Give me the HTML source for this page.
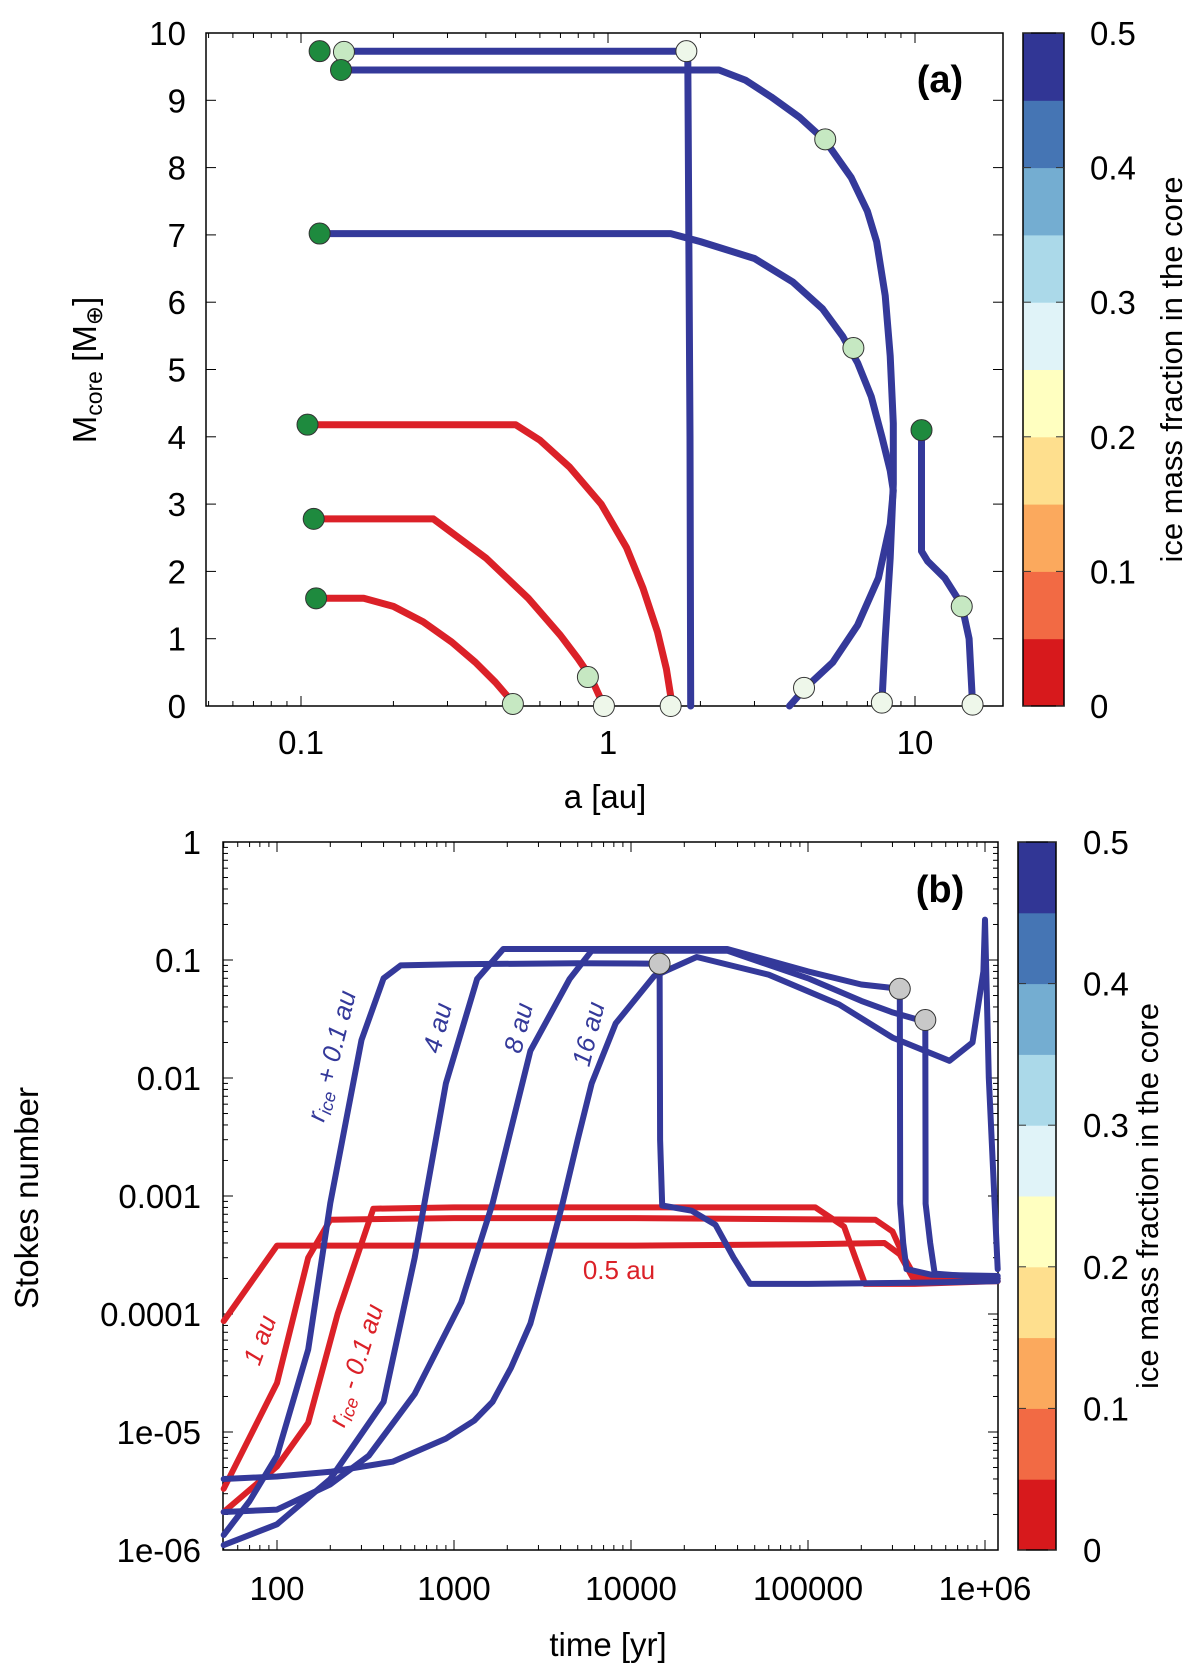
<!DOCTYPE html>
<html><head><meta charset="utf-8">
<style>
html,body{margin:0;padding:0;background:#fff;}
svg{display:block;font-family:"Liberation Sans",Arial,sans-serif;}
</style></head>
<body>
<svg id="fig" width="1200" height="1675" viewBox="0 0 1200 1675" xmlns="http://www.w3.org/2000/svg"></svg>
<script>
// ---------- Panel (a) data ----------
const aTicks = [0.1, 1, 10];
const aTickLabels = ["0.1", "1", "10"];
const mTicks = [0,1,2,3,4,5,6,7,8,9,10];
const cbTicks = [0,0.1,0.2,0.3,0.4,0.5];
const cbColors = ["#d7191c","#f26a44","#fba95d","#fedf8e","#ffffc0","#e0f3f8","#abd9e9","#74add1","#4575b4","#313695"];

const trackA1_a = [0.135, 1.8, 1.82, 1.85, 1.86];
const trackA1_m = [9.73, 9.73, 9.6, 4, 0];
const trackA2_a = [0.135, 2.3, 2.8, 3.4, 4.2, 5.1, 6.2, 7.0, 7.5, 8.0, 8.3, 8.5, 8.5, 8.3, 8.0, 7.8];
const trackA2_m = [9.45, 9.45, 9.3, 9.05, 8.75, 8.4, 7.85, 7.35, 6.9, 6.1, 5.2, 4.2, 3.3, 2.2, 1.0, 0.05];
const trackA3_a = [0.115, 1.6, 2.0, 3.0, 4.0, 5.0, 5.8, 6.5, 7.2, 7.8, 8.3, 8.5, 8.3, 7.6, 6.5, 5.4, 4.4, 3.9];
const trackA3_m = [7.02, 7.02, 6.9, 6.65, 6.3, 5.9, 5.5, 5.1, 4.6, 4.0, 3.5, 3.2, 2.7, 1.9, 1.2, 0.65, 0.27, 0];
const trackA4_a = [10.5, 10.5, 11.0, 12.5, 14.2, 15.0, 15.4];
const trackA4_m = [4.1, 2.3, 2.15, 1.9, 1.5, 1.0, 0.02];
const trackA5_a = [0.105, 0.5, 0.6, 0.75, 0.95, 1.15, 1.3, 1.45, 1.55, 1.62];
const trackA5_m = [4.18, 4.18, 3.95, 3.55, 3.0, 2.35, 1.75, 1.1, 0.55, 0];
const trackA6_a = [0.11, 0.27, 0.4, 0.55, 0.7, 0.8, 0.88, 0.97];
const trackA6_m = [2.78, 2.78, 2.2, 1.6, 1.05, 0.7, 0.42, 0];
const trackA7_a = [0.112, 0.16, 0.2, 0.25, 0.31, 0.37, 0.43, 0.49];
const trackA7_m = [1.6, 1.6, 1.48, 1.25, 0.95, 0.65, 0.35, 0.05];

const darkDots_a = [0.115, 0.135, 0.115, 10.5, 0.105, 0.11, 0.112];
const darkDots_m = [9.73, 9.45, 7.02, 4.1, 4.18, 2.78, 1.6];
const lightDots_a = [0.138, 5.1, 6.3, 14.2, 0.86, 0.49];
const lightDots_m = [9.72, 8.42, 5.32, 1.48, 0.43, 0.03];
const paleDots_a = [1.8, 4.35, 7.8, 15.4, 0.97, 1.6];
const paleDots_m = [9.73, 0.27, 0.05, 0.02, 0, 0];

// ---------- Panel (b) data ----------
const tTicks = [100, 1000, 10000, 100000, 1000000];
const tTickLabels = ["100","1000","10000","100000","1e+06"];
const sTicks = [1e-6,1e-5,1e-4,1e-3,1e-2,1e-1,1];
const sTickLabels = ["1e-06","1e-05","0.0001","0.001","0.01","0.1","1"];

const bRiceP_t = [50, 70, 100, 150, 200, 250, 300, 400, 500, 1000, 5000, 14500, 14600, 15000, 22000, 30000, 38000, 47000, 100000, 500000, 1180000];
const bRiceP_s = [1.34e-6, 2.6e-6, 6.3e-6, 5e-5, 8.7e-4, 5e-3, 0.021, 0.07, 0.09, 0.092, 0.094, 0.093, 0.003, 8.3e-4, 7.5e-4, 5.7e-4, 3e-4, 1.8e-4, 1.8e-4, 1.85e-4, 1.9e-4];
const b4_t = [50, 100, 200, 400, 600, 900, 1350, 1900, 35000, 100000, 200000, 330000, 332000, 345000, 360000, 500000, 1180000];
const b4_s = [1.1e-6, 1.65e-6, 4e-6, 1.8e-5, 3e-4, 9e-3, 0.069, 0.124, 0.124, 0.08, 0.062, 0.057, 8.6e-4, 4e-4, 2.4e-4, 2.15e-4, 2.1e-4];
const b8_t = [50, 100, 200, 330, 600, 1100, 1650, 2700, 4500, 6000, 35000, 100000, 200000, 300000, 460000, 462000, 490000, 520000, 1180000];
const b8_s = [2.1e-6, 2.2e-6, 3.6e-6, 6.3e-6, 2.1e-5, 1.26e-4, 8.6e-4, 0.017, 0.069, 0.12, 0.12, 0.07, 0.045, 0.036, 0.03, 8.6e-4, 4e-4, 2.2e-4, 2.0e-4];
const b16_t = [50, 100, 200, 450, 900, 1300, 1650, 2100, 2700, 3300, 4100, 5000, 6000, 8200, 13500, 23500, 60000, 150000, 300000, 630000, 850000, 980000, 1000000, 1050000, 1180000];
const b16_s = [4e-6, 4.2e-6, 4.6e-6, 5.6e-6, 8.8e-6, 1.25e-5, 1.8e-5, 3.5e-5, 8.3e-5, 2.5e-4, 8.6e-4, 3e-3, 9e-3, 0.029, 0.073, 0.106, 0.075, 0.042, 0.022, 0.014, 0.02, 0.08, 0.22, 0.01, 2.4e-4];
const rHalf_t = [50, 100, 1000, 10000, 100000, 270000, 330000, 400000, 600000, 1180000];
const rHalf_s = [8.7e-5, 3.8e-4, 3.8e-4, 3.8e-4, 3.9e-4, 4e-4, 3.2e-4, 1.9e-4, 1.9e-4, 1.9e-4];
const r1_t = [50, 100, 150, 200, 1000, 10000, 240000, 300000, 350000, 400000, 1180000];
const r1_s = [3.3e-6, 2.6e-5, 3e-4, 6.3e-4, 6.5e-4, 6.5e-4, 6.3e-4, 5e-4, 3e-4, 2.1e-4, 2.0e-4];
const rM_t = [50, 100, 150, 220, 350, 1000, 10000, 110000, 160000, 185000, 210000, 400000, 1180000];
const rM_s = [2.1e-6, 5.1e-6, 1.2e-5, 1e-4, 7.8e-4, 8e-4, 8e-4, 8e-4, 5.5e-4, 3e-4, 1.8e-4, 1.8e-4, 1.9e-4];
const grayDots_t = [14500, 330000, 460000];
const grayDots_s = [0.093, 0.057, 0.031];

// ---------- scales ----------
const xA = a => 608 + 307*Math.log10(a);
const yA = m => 706 - m*67.3;
const xB = t => 277 + 177*(Math.log10(t)-2);
const yB = s => 842 - 118*Math.log10(s);
const NS = "http://www.w3.org/2000/svg";
const svg = document.getElementById('fig');
function mk(tag, attrs, parent){ const e=document.createElementNS(NS,tag); for(const k in attrs) e.setAttribute(k,attrs[k]); (parent||svg).appendChild(e); return e; }
function txt(x,y,s,size,anchor,parent){ const e=mk('text',{x:x,y:y,'font-size':size,'text-anchor':anchor||'middle',fill:'#000'},parent); e.textContent=s; return e; }

const BLUE="#34399a", RED="#db2128";
const FS=33;

function line(xs, ys, fx, fy, color, w, name){
  const pts = xs.map((v,i)=>fx(v).toFixed(1)+","+fy(ys[i]).toFixed(1)).join(" ");
  const e = mk('polyline',{points:pts,fill:'none',stroke:color,'stroke-width':w,'stroke-linejoin':'round','stroke-linecap':'round'});
  
  
  return e;
}
function dots(xs, ys, fx, fy, fill, name){
  xs.forEach((v,i)=>{
    const c = mk('circle',{cx:fx(v),cy:fy(ys[i]),r:10.5,fill:fill,stroke:'#333','stroke-width':1});
    
    
  });
}
function colorbar(x0,x1,y0,y1,lx,titleX,name){
  const g = mk('g',{});
  
  
  const h=(y1-y0)/cbColors.length;
  cbColors.forEach((c,i)=>{ mk('rect',{x:x0,y:y1-(i+1)*h,width:x1-x0,height:h+0.5,fill:c},g); });
  mk('rect',{x:x0,y:y0,width:x1-x0,height:y1-y0,fill:'none',stroke:'#000','stroke-width':1.5},g);
  cbTicks.forEach(v=>{
    const y=y1-(y1-y0)*v/0.5;
    mk('line',{x1:x0,x2:x0+8,y1:y,y2:y,stroke:'#333','stroke-width':1},g);
    mk('line',{x1:x1-8,x2:x1,y1:y,y2:y,stroke:'#333','stroke-width':1},g);
    const t=txt(lx,y+12,String(v),FS,'start',g);
    
    
  });
  const cy=(y0+y1)/2;
  const t=txt(titleX,cy,"ice mass fraction in the core",31,'middle',g);
  t.setAttribute('transform',`rotate(-90 ${titleX} ${cy})`);
  
  
}

// ===== Panel (a) =====
(function(){
  const L=206,R=1003,T=33,B=706;
  const frame=mk('rect',{x:L,y:T,width:R-L,height:B-T,fill:'none',stroke:'#000','stroke-width':1.5});
  
  
  mTicks.forEach(m=>{
    const y=yA(m);
    mk('line',{x1:L,x2:L+10,y1:y,y2:y,stroke:'#000'}); mk('line',{x1:R-10,x2:R,y1:y,y2:y,stroke:'#000'});
    const t=txt(186,y+12,String(m),FS,'end');
    
    
  });
  for(let d=-2; d<=1; d++) for(let k=1;k<10;k++){
    const v=k*Math.pow(10,d); const x=xA(v); if(x<L||x>R) continue;
    const len=k===1?10:5;
    mk('line',{x1:x,x2:x,y1:B,y2:B-len,stroke:'#000'}); mk('line',{x1:x,x2:x,y1:T,y2:T+len,stroke:'#000'});
  }
  aTicks.forEach((v,i)=>{ const t=txt(xA(v),754,aTickLabels[i],FS);   });
  const xt=txt(605,808,"a [au]",FS);  
  const yt=mk('text',{x:96,y:370,'font-size':FS,'text-anchor':'middle',transform:'rotate(-90 96 370)'});
  yt.innerHTML='M<tspan font-size="23" dy="6">core</tspan><tspan dy="-6"> [M</tspan><tspan font-size="23" dy="6">⊕</tspan><tspan dy="-6">]</tspan>';
   
  const lab=txt(940,92,"(a)",38); lab.setAttribute('font-weight','bold');  

  line(trackA1_a,trackA1_m,xA,yA,BLUE,7,'track-9.7-mearth');
  line(trackA2_a,trackA2_m,xA,yA,BLUE,7,'track-9.5-mearth');
  line(trackA3_a,trackA3_m,xA,yA,BLUE,7,'track-7-mearth');
  line(trackA4_a,trackA4_m,xA,yA,BLUE,7,'track-4-mearth-outer');
  line(trackA5_a,trackA5_m,xA,yA,RED,7,'track-4-mearth-inner');
  line(trackA6_a,trackA6_m,xA,yA,RED,7,'track-2.8-mearth');
  line(trackA7_a,trackA7_m,xA,yA,RED,7,'track-1.6-mearth');
  dots(lightDots_a,lightDots_m,xA,yA,'#c6e8c2','light-green-marker');
  dots(paleDots_a,paleDots_m,xA,yA,'#eef7ea','pale-marker');
  dots(darkDots_a,darkDots_m,xA,yA,'#1e8a3e','dark-green-marker');
  colorbar(1023,1064,33,706,1090,1182,'colorbar-a');
})();

// ===== Panel (b) =====
(function(){
  const L=223,R=998,T=842,B=1550;
  const frame=mk('rect',{x:L,y:T,width:R-L,height:B-T,fill:'none',stroke:'#000','stroke-width':1.5});
  
  
  sTicks.forEach((v,i)=>{
    const y=yB(v);
    const t=txt(201,y+12,sTickLabels[i],FS,'end');
     
  });
  for(let d=-6; d<=0; d++) for(let k=1;k<10;k++){
    const y=yB(k*Math.pow(10,d)); if(y<T-0.5||y>B+0.5) continue;
    const len=k===1?10:5;
    mk('line',{x1:L,x2:L+len,y1:y,y2:y,stroke:'#000'}); mk('line',{x1:R-len,x2:R,y1:y,y2:y,stroke:'#000'});
  }
  for(let d=1; d<=6; d++) for(let k=1;k<10;k++){
    const x=xB(k*Math.pow(10,d)); if(x<L||x>R) continue;
    const len=k===1?10:5;
    mk('line',{x1:x,x2:x,y1:B,y2:B-len,stroke:'#000'}); mk('line',{x1:x,x2:x,y1:T,y2:T+len,stroke:'#000'});
  }
  tTicks.forEach((v,i)=>{ const t=txt(xB(v),1600,tTickLabels[i],FS);   });
  const xt=txt(608,1656,"time [yr]",FS);  
  const yt=txt(38,1198,"Stokes number",FS); yt.setAttribute('transform','rotate(-90 38 1198)');  
  const lab=txt(940,902,"(b)",38); lab.setAttribute('font-weight','bold');  

  line(rHalf_t,rHalf_s,xB,yB,RED,6,'curve-0.5au');
  line(r1_t,r1_s,xB,yB,RED,6,'curve-1au');
  line(rM_t,rM_s,xB,yB,RED,6,'curve-rice-minus');
  line(b16_t,b16_s,xB,yB,BLUE,6,'curve-16au');
  line(b8_t,b8_s,xB,yB,BLUE,6,'curve-8au');
  line(b4_t,b4_s,xB,yB,BLUE,6,'curve-4au');
  line(bRiceP_t,bRiceP_s,xB,yB,BLUE,6,'curve-rice-plus');
  dots(grayDots_t,grayDots_s,xB,yB,'#c8c8c8','gray-marker');

  function rlab(x,y,html,color,ang,name){
    const e=mk('text',{x:x,y:y,'font-size':26,'font-style':'italic','text-anchor':'middle',fill:color,transform:`rotate(${ang} ${x} ${y})`});
    e.innerHTML=html;
     
  }
  rlab(340,1058,'r<tspan font-size="18" dy="5">ice</tspan><tspan dy="-5"> + 0.1 au</tspan>',BLUE,-76,'label-rice-plus');
  rlab(446,1030,'4 au',BLUE,-76,'label-4au');
  rlab(527,1030,'8 au',BLUE,-76,'label-8au');
  rlab(597,1036,'16 au',BLUE,-76,'label-16au');
  rlab(268,1343,'1 au',RED,-70,'label-1au');
  rlab(364,1368,'r<tspan font-size="18" dy="5">ice</tspan><tspan dy="-5"> - 0.1 au</tspan>',RED,-72,'label-rice-minus');
  const h=txt(619,1279,"0.5 au",26); h.setAttribute('fill',RED);  
  colorbar(1018,1056,842,1550,1083,1158,'colorbar-b');
})();
</script>
</body></html>
